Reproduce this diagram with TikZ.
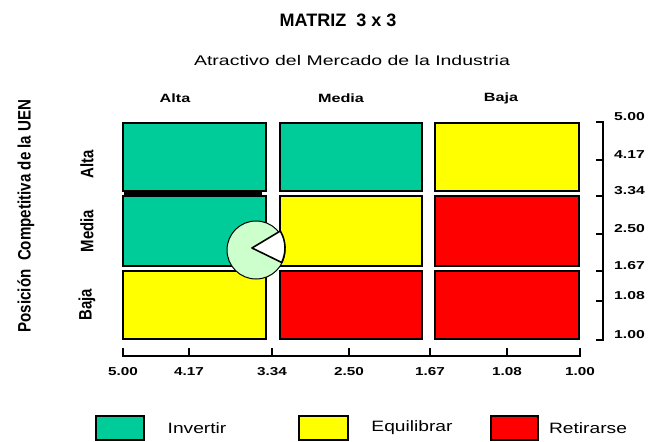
\documentclass[tikz,border=0pt]{standalone}
\usepackage{fontspec}
\usepackage{graphicx}
\setmainfont{Liberation Sans}
\newcommand{\ancho}[2][1.25]{\scalebox{#1}[1]{#2}}
\definecolor{invertir}{HTML}{00CC99}
\definecolor{equilibrar}{HTML}{FFFF00}
\definecolor{retirarse}{HTML}{FF0000}
\definecolor{pie}{HTML}{CCFFCC}
\tikzset{
  cell/.style={draw=black,line width=2.2pt},
  lbl/.style={font=\bfseries\fontsize{12}{12}\selectfont,inner sep=0pt},
  eje/.style={font=\bfseries\fontsize{11.5}{11.5}\selectfont,inner sep=0pt},
  vert/.style={font=\bfseries\fontsize{18}{18}\selectfont,inner sep=0pt,rotate=90},
  txt/.style={font=\fontsize{15}{15}\selectfont,inner sep=0pt},
}
\begin{document}
\begin{tikzpicture}[x=1pt,y=-1pt]
\useasboundingbox[fill=white](0,0)rectangle(652,441);
% titulos
\node[font=\bfseries\fontsize{18}{18}\selectfont,inner sep=0pt](titulo) at (338,20){MATRIZ \ 3 x 3};
\node[font=\fontsize{14}{14}\selectfont,inner sep=0pt](atractivo) at (352,60){\ancho[1.39]{Atractivo del Mercado de la Industria}};
\node[lbl](colalta) at (175,98){\ancho[1.35]{Alta}};
\node[lbl](colmedia) at (341,98){\ancho[1.35]{Media}};
\node[lbl](colbaja) at (501,98){\ancho[1.35]{Baja}};
\node[vert](posicion) at (26,216){\ancho[0.84]{Posición \ Competitiva de la UEN}};
\node[vert](filaalta) at (87,164){\ancho[0.83]{Alta}};
\node[vert](filamedia) at (87,231){\ancho[0.83]{Media}};
\node[vert](filabaja) at (87,305){\ancho[0.83]{Baja}};
% celdas
\draw[cell,fill=invertir](123,123)rectangle(266,191);
\draw[cell,fill=invertir](280,123)rectangle(422,191);
\draw[cell,fill=equilibrar](435,123)rectangle(579,191);
\draw[cell,fill=invertir](123,196)rectangle(266,266);
\draw[cell,fill=equilibrar](280,196)rectangle(422,266);
\draw[cell,fill=retirarse](435,196)rectangle(579,266);
\draw[cell,fill=equilibrar](123,271)rectangle(266,339);
\draw[cell,fill=retirarse](280,271)rectangle(422,339);
\draw[cell,fill=retirarse](435,271)rectangle(579,339);
\draw[line width=3.5pt](124,193.5)--(262,193.5);
% circulo
\draw[fill=pie,line width=1pt](256,250)circle(29);
\draw[fill=white,line width=1.6pt,line join=round](252,248)--++(-31:33)arc(-31:26:33)--cycle;
% eje derecho
\draw[line width=1.6pt](596,122)--(603,122)--(603,340)--(596,340);
\foreach \yy/\val in {122/5.00,160/4.17,196/3.34,234/2.50,271/1.67,301/1.08,340/1.00}{
  \draw[line width=1.6pt](596,\yy)--(603,\yy);
  \node[eje,anchor=west] at (614,\yy-5){\ancho[1.37]{\val}};
}
% eje inferior
\draw[line width=1.6pt](123,348)--(123,356)--(580,356)--(580,348);
\foreach \xx/\val in {123/5.00,189/4.17,272/3.34,349/2.50,430/1.67,507/1.08,580/1.00}{
  \draw[line width=1.6pt](\xx,348)--(\xx,356);
  \node[eje] at (\xx,372){\ancho[1.33]{\val}};
}
% leyenda
\draw[cell,line width=1.8pt,fill=invertir](96,416)rectangle(144,440);
\node[txt](invertir) at (197,428){\ancho[1.28]{Invertir}};
\draw[cell,line width=1.8pt,fill=equilibrar](299,416)rectangle(348,440);
\node[txt](equil) at (412,428){\ancho[1.28]{Equilibrar}};
\draw[cell,line width=1.8pt,fill=retirarse](491,416)rectangle(538,440);
\node[txt](retir) at (588,428){\ancho[1.28]{Retirarse}};
\end{tikzpicture}
\end{document}
